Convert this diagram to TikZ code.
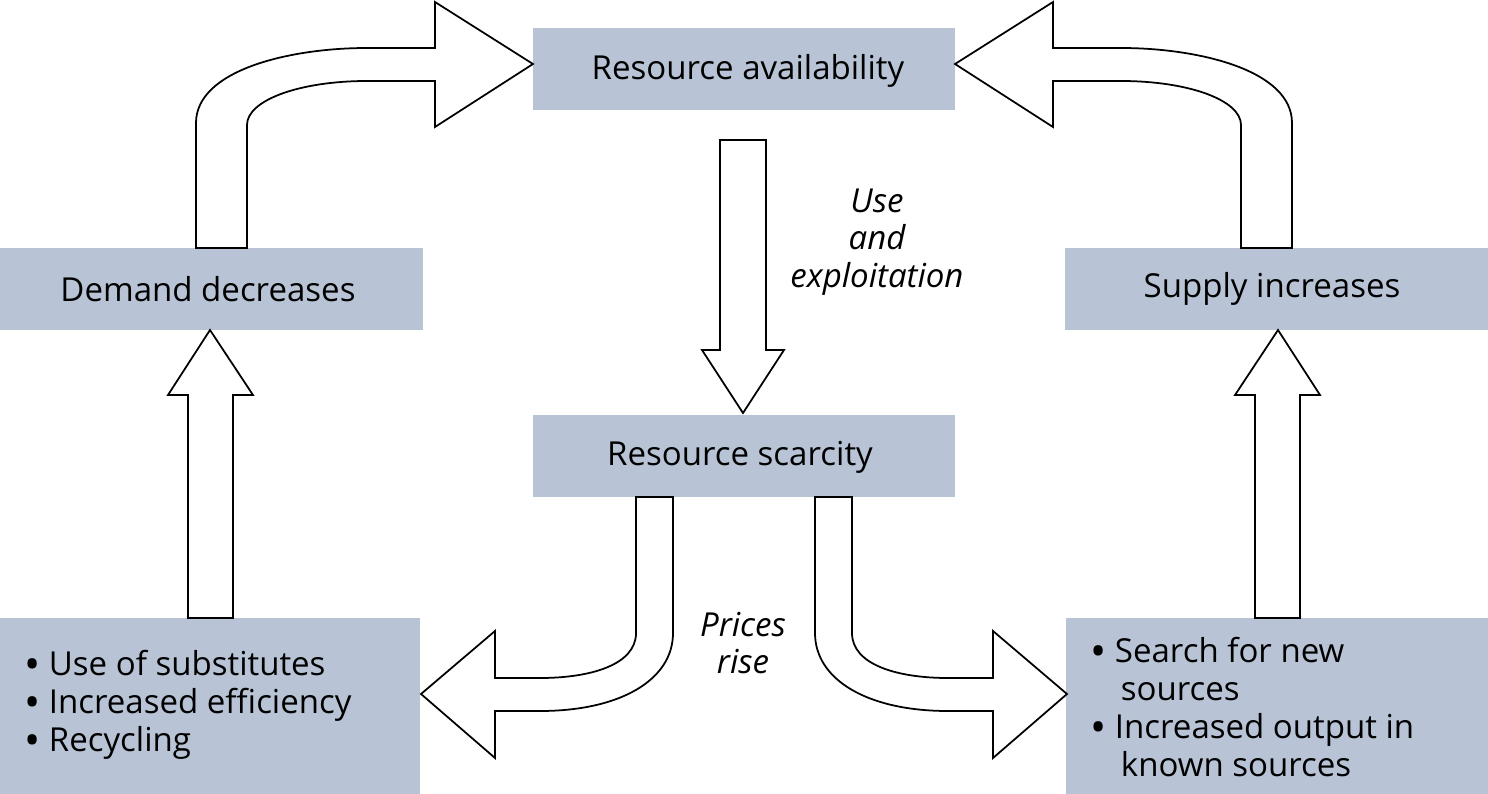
\documentclass[tikz,border=0pt]{standalone}
\usepackage{fontspec}
\setmainfont{Open Sans}
\newcommand\bul{\raisebox{-0.12em}{\scalebox{1.3}{•}}}
\begin{document}
\begin{tikzpicture}[x=0.02cm,y=-0.02cm,
  arr/.style={draw=black,fill=white,line width=1pt,line join=miter},
  lbl/.style={font=\fontsize{18.8}{21.5}\selectfont},
  ilbl/.style={font=\fontsize{18.8}{21.5}\selectfont\itshape,align=center}]
\definecolor{boxc}{HTML}{B8C4D6}
\useasboundingbox (0,0) rectangle (1488,794);
\fill[boxc] (533,28) rectangle (955,110);
\fill[boxc] (0,248) rectangle (423,330);
\fill[boxc] (1065,248) rectangle (1488,330);
\fill[boxc] (533,415) rectangle (955,497);
\fill[boxc] (0,618) rectangle (420,794);
\fill[boxc] (1066,618) rectangle (1488,794);
\node[lbl] (ra) at (748,71) {Resource availability};
\node[lbl] (dd) at (208,289) {Demand decreases};
\node[lbl] (si) at (1272,289) {Supply increases};
\node[lbl] (rs) at (740,457) {Resource scarcity};
\node[ilbl] (ue) at (877,242) {Use\\and\\exploitation};
\node[ilbl] (pr) at (743,643) {Prices\\rise};
\node[lbl,anchor=west,align=left] (bl) at (18,705) {\bul\ Use of substitutes\\\bul\ Increased efficiency\\\bul\ Recycling};
\node[lbl,anchor=west,align=left] (br) at (1084,707) {\bul\ Search for new\\\hspace*{0.93em}sources\\\bul\ Increased output in\\\hspace*{0.93em}known sources};
% straight arrows
\draw[arr] (720,140) -- (720,350) -- (702,350) -- (743,413) -- (784,350) -- (766,350) -- (766,140) -- cycle;
\draw[arr] (188,618) -- (188,395) -- (168,395) -- (210,330) -- (253,395) -- (233,395) -- (233,618) -- cycle;
\draw[arr] (1255,618) -- (1255,395) -- (1235,395) -- (1278,330) -- (1320,395) -- (1300,395) -- (1300,618) -- cycle;
% curved arrows
\foreach \s in {1,-1}{
\begin{scope}[shift={({744*(1-\s)},0)},xscale=\s]
\draw[arr] (196,248) -- (196,123) .. controls (196,70) and (290,48) .. (367,48) -- (435,48) -- (435,2) -- (533,64) -- (435,127) -- (435,81) -- (367,81) .. controls (300,81) and (247,100) .. (247,125) -- (247,248) -- cycle;
\draw[arr] (636,497) -- (636,633) .. controls (636,665) and (590,678) .. (540,678) -- (495,678) -- (495,631) -- (421,694) -- (495,758) -- (495,711) -- (540,711) .. controls (620,711) and (673,680) .. (673,633) -- (673,497) -- cycle;
\end{scope}}
\end{tikzpicture}
\end{document}
